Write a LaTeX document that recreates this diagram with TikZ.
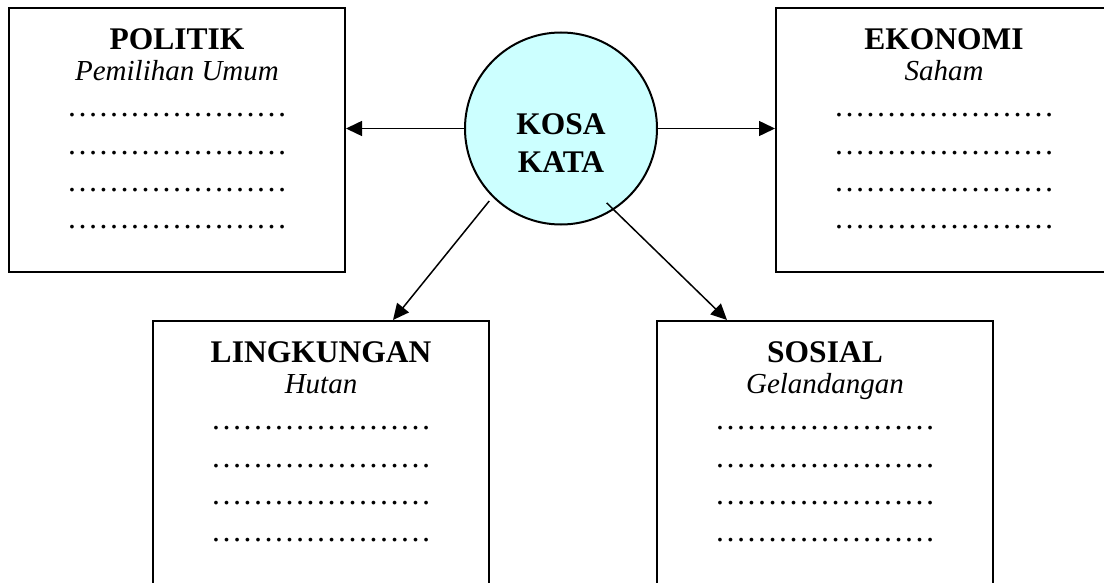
\documentclass[tikz,border=0pt]{standalone}
\usepackage{fontspec}
\setmainfont{Liberation Serif}
\usetikzlibrary{arrows.meta}
\definecolor{kosafill}{HTML}{CCFFFF}
\newcommand{\subjudul}[1]{{\itshape\fontsize{14.5pt}{18.5pt}\selectfont #1}}
\newcommand{\titik}{\char"2026\char"2026\char"2026\char"2026\char"2026\char"2026\char"2026}
\begin{document}
\begin{tikzpicture}[x=0.5pt, y=-0.5pt, >={Triangle[length=8pt,width=7.5pt]}, font=\fontsize{15.75pt}{18.6pt}\selectfont]
        \tikzset{box/.style={draw, line width=1pt, minimum width=168pt, minimum height=132pt, inner sep=0pt},
                 lowbox/.style={box, minimum height=150pt},
                 boxtext/.style={anchor=north, align=center, inner sep=0pt},
                 link/.style={->, line width=0.75pt}}
        \useasboundingbox (0,0) rectangle (1104,583);
        \clip (0,0) rectangle (1104,583);
        % kotak
        \node[box] (politik) at (177,140) {};
        \node[box] (ekonomi) at (944,140) {};
        \node[lowbox] (lingkungan) at (321,471) {};
        \node[lowbox] (sosial) at (825,471) {};
        \node[boxtext] (politiktext) at ([yshift=-10.6pt]politik.north) {\textbf{POLITIK}\\[-2.85pt]\subjudul{Pemilihan Umum}\\[-0.6pt]\titik\\\titik\\\titik\\\titik};
        \node[boxtext] (ekonomitext) at ([yshift=-10.6pt]ekonomi.north) {\textbf{EKONOMI}\\[-2.85pt]\subjudul{Saham}\\[-0.6pt]\titik\\\titik\\\titik\\\titik};
        \node[boxtext] (lingkungantext) at ([yshift=-10.6pt]lingkungan.north) {\textbf{LINGKUNGAN}\\[-2.85pt]\subjudul{Hutan}\\[-0.6pt]\titik\\\titik\\\titik\\\titik};
        \node[boxtext] (sosialtext) at ([yshift=-10.6pt]sosial.north) {\textbf{SOSIAL}\\[-2.85pt]\subjudul{Gelandangan}\\[-0.6pt]\titik\\\titik\\\titik\\\titik};
        % lingkaran
        \node[circle, draw, line width=1pt, fill=kosafill, minimum size=96pt, inner sep=0pt,
              label={[align=center, font=\fontsize{15.75pt}{18.5pt}\selectfont\bfseries, inner sep=0pt, yshift=-7.25pt]center:{KOSA\\[0.5pt]KATA}}] (kosa) at (561,128.5) {};
        % panah
        \draw[link] (kosa.west) -- (politik.east |- kosa.west);
        \draw[link] (kosa.east) -- (ekonomi.west |- kosa.east);
        \draw[link, shorten <=2.5pt] (kosa.225) -- ([xshift=36pt]lingkungan.north);
        \draw[link, shorten <=-5pt] (kosa.303) -- ([xshift=-49pt]sosial.north);
\end{tikzpicture}
\end{document}
